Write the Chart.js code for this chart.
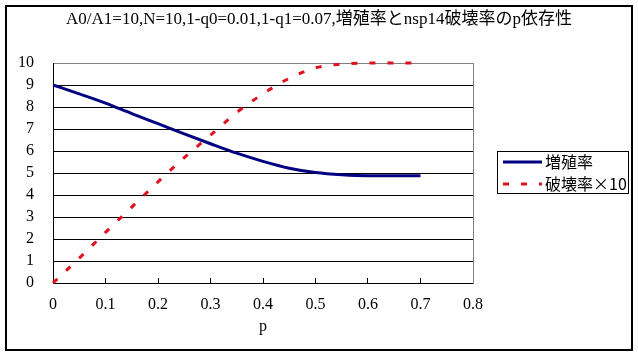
<!DOCTYPE html>
<html>
<head>
<meta charset="utf-8">
<script src="https://cdn.jsdelivr.net/npm/chart.js@4/dist/chart.umd.min.js"></script>
<style>
html,body{margin:0;padding:0;background:#fff;}
canvas{display:block;}
</style>
</head>
<body>
<canvas id="c" width="638" height="355"></canvas>
<script>
const titleText = 'A0/A1=10,N=10,1-q0=0.01,1-q1=0.07,増殖率とnsp14破壊率のp依存性';
const xAxisTitle = 'p';
const pValues = [0, 0.05, 0.1, 0.15, 0.2, 0.25, 0.3, 0.35, 0.4, 0.45, 0.5, 0.55, 0.6, 0.65, 0.7];
const growthRate = [9.0, 8.6, 8.18, 7.7, 7.24, 6.78, 6.33, 5.9, 5.53, 5.22, 5.02, 4.92, 4.88, 4.88, 4.88];
const destructionRateX10 = [0, 1.13, 2.3, 3.45, 4.6, 5.7, 6.72, 7.75, 8.6, 9.3, 9.78, 9.95, 10, 10, 10];
const seriesNames = ['増殖率', '破壊率×10'];
const xTickLabels = ['0', '0.1', '0.2', '0.3', '0.4', '0.5', '0.6', '0.7', '0.8'];
const yTickLabels = ['0', '1', '2', '3', '4', '5', '6', '7', '8', '9', '10'];

const serif = '"Liberation Serif", "Noto Sans CJK JP", serif';
const cjk = '"Noto Sans CJK JP", "Liberation Serif", sans-serif';

Chart.defaults.color = '#000';

const frame = {
  id: 'frame',
  beforeDraw(chart) {
    const ctx = chart.ctx;
    ctx.save();
    ctx.fillStyle = '#fff';
    ctx.fillRect(0, 0, chart.width, chart.height);
    ctx.strokeStyle = '#000';
    ctx.lineWidth = 2;
    ctx.strokeRect(6, 6, 626, 344);
    ctx.restore();
  }
};

const legendBox = {
  id: 'legendBox',
  afterDraw(chart) {
    const ctx = chart.ctx;
    ctx.save();
    ctx.strokeStyle = '#000';
    ctx.lineWidth = 1;
    ctx.strokeRect(497.5, 151.5, 131, 42);
    const rows = [162, 184];
    chart.data.datasets.forEach((ds, i) => {
      const y = rows[i];
      ctx.beginPath();
      ctx.strokeStyle = ds.borderColor;
      ctx.lineWidth = ds.borderWidth;
      ctx.setLineDash(ds.borderDash || []);
      ctx.moveTo(503, y);
      ctx.lineTo(542, y);
      ctx.stroke();
      ctx.setLineDash([]);
      ctx.fillStyle = '#000';
      ctx.font = '16px ' + cjk;
      ctx.textBaseline = 'middle';
      ctx.textAlign = 'left';
      ctx.fillText(ds.label, 545, y);
    });
    ctx.restore();
  }
};

new Chart(document.getElementById('c'), {
  type: 'line',
  data: {
    datasets: [
      {
        label: seriesNames[0],
        data: pValues.map((p, i) => ({x: p, y: growthRate[i]})),
        borderColor: '#000080',
        borderWidth: 3,
        pointRadius: 0,
        cubicInterpolationMode: 'monotone',
        fill: false,
        clip: 4
      },
      {
        label: seriesNames[1],
        data: pValues.map((p, i) => ({x: p, y: destructionRateX10[i]})),
        borderColor: '#e0101e',
        borderWidth: 3,
        borderDash: [6, 12],
        borderCapStyle: 'butt',
        pointRadius: 0,
        cubicInterpolationMode: 'monotone',
        fill: false,
        clip: 4
      }
    ]
  },
  options: {
    responsive: false,
    animation: false,
    devicePixelRatio: 1,
    layout: {padding: 0},
    plugins: {
      legend: {display: false},
      tooltip: {enabled: false},
      title: {
        display: true,
        text: titleText,
        color: '#000',
        font: {family: serif, size: 17, weight: 'normal'},
        padding: {top: 9.5, bottom: 33.1}
      }
    },
    scales: {
      x: {
        type: 'linear',
        position: 'bottom',
        min: 0,
        max: 0.8,
        ticks: {
          stepSize: 0.1,
          autoSkip: false,
          padding: 17.4,
          font: {family: serif, size: 16},
          callback: (v, i) => xTickLabels[i]
        },
        grid: {
          drawOnChartArea: false,
          drawTicks: true,
          tickLength: -5,
          color: '#000',
          lineWidth: 1
        },
        border: {display: true, color: '#000', width: 1},
        title: {
          display: true,
          text: xAxisTitle,
          font: {family: serif, size: 16},
          padding: {top: 0, bottom: 18.4}
        },
        afterFit: (s) => { s.height = 72; }
      },
      y: {
        type: 'linear',
        position: 'left',
        min: 0,
        max: 10,
        ticks: {
          count: 11,
          autoSkip: false,
          padding: 19,
          font: {family: serif, size: 16},
          callback: (v, i) => yTickLabels[i]
        },
        grid: {
          drawTicks: false,
          color: (c) => (c.tick && c.tick.value === 10) ? '#808080' : '#000',
          lineWidth: 1
        },
        border: {display: true, color: '#000', width: 1},
        afterFit: (s) => { s.width = 53; }
      },
      y2: {
        type: 'linear',
        position: 'right',
        min: 0,
        max: 10,
        ticks: {display: false},
        grid: {drawOnChartArea: false, drawTicks: false},
        border: {display: true, color: '#808080', width: 1},
        afterFit: (s) => { s.width = 165; }
      }
    }
  },
  plugins: [frame, legendBox]
});
</script>
</body>
</html>
